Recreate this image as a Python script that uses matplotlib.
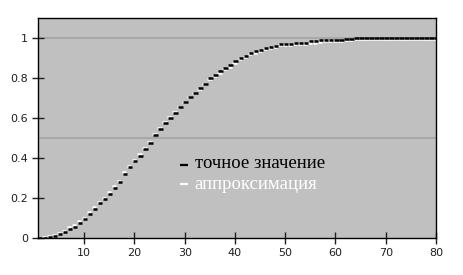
import numpy as np
from matplotlib import pyplot as plt

# значения (x = 1..80)
x_vals = list(range(1, 81))
exact = [0.000, 0.000, 0.004, 0.010, 0.018, 0.029, 0.046, 0.056, 0.076, 0.093,
         0.122, 0.146, 0.174, 0.193, 0.222, 0.251, 0.279, 0.322, 0.354, 0.384,
         0.412, 0.443, 0.476, 0.514, 0.547, 0.576, 0.600, 0.626, 0.654, 0.678,
         0.706, 0.726, 0.748, 0.772, 0.800, 0.814, 0.834, 0.851, 0.864, 0.884,
         0.900, 0.912, 0.926, 0.934, 0.942, 0.951, 0.956, 0.962, 0.971, 0.971,
         0.971, 0.976, 0.976, 0.976, 0.984, 0.984, 0.989, 0.992, 0.992, 0.992,
         0.992, 0.997, 0.997, 1.000, 1.000, 1.000, 1.000, 1.000, 1.000, 1.000,
         1.000, 1.000, 1.000, 1.000, 1.000, 1.000, 1.000, 1.000, 1.000, 1.000]
approx = [0.001, 0.003, 0.008, 0.016, 0.025, 0.037, 0.053, 0.065, 0.084, 0.102,
          0.130, 0.155, 0.182, 0.202, 0.231, 0.259, 0.287, 0.329, 0.361, 0.391,
          0.419, 0.449, 0.481, 0.518, 0.550, 0.579, 0.603, 0.628, 0.655, 0.679,
          0.705, 0.724, 0.745, 0.768, 0.794, 0.808, 0.827, 0.844, 0.857, 0.877,
          0.893, 0.905, 0.918, 0.926, 0.934, 0.943, 0.948, 0.955, 0.964, 0.964,
          0.964, 0.969, 0.969, 0.970, 0.977, 0.977, 0.982, 0.985, 0.985, 0.985,
          0.985, 0.990, 0.990, 0.993, 0.993, 0.993, 0.993, 0.993, 0.993, 0.993,
          0.993, 0.993, 0.993, 0.993, 0.993, 0.993, 0.993, 0.993, 0.993, 0.993]
labels = ['точное значение', 'аппроксимация']
xticks = [10, 20, 30, 40, 50, 60, 70, 80]
yticks = [0, 0.2, 0.4, 0.6, 0.8, 1]

x = np.array(x_vals, dtype=float)

fig = plt.figure(figsize=(4.64, 2.75), dpi=100, facecolor='white')
ax = fig.add_axes([38 / 464, 1 - 238 / 275, 398 / 464, 220 / 275])
ax.set_facecolor('#c0c0c0')

# линии сетки только на 0.5 и 1
for g in (0.5, 1.0):
    ax.axhline(g, color='#a4a4a4', lw=1.2, zorder=1)

ax.hlines(approx, x - 0.5, x + 0.4, color='white', lw=1.8, zorder=2)
ax.hlines(exact, x - 0.3, x + 0.6, color='black', lw=1.8, zorder=3)

ax.set_xlim(0.8, 80)
ax.set_ylim(0, 1.1)
ax.set_xticks(xticks)
ax.set_xticklabels([str(t) for t in xticks])
ax.set_yticks(yticks)
ax.set_yticklabels(['0', '0.2', '0.4', '0.6', '0.8', '1'])
ax.tick_params(direction='inout', length=8, width=1, color='#202020',
               labelsize=8, labelcolor='#202020', pad=3)
for s in ax.spines.values():
    s.set_linewidth(1)
    s.set_color('black')

# подписи (легенда)
ax.plot([0.358, 0.378], [0.332, 0.332], color='black', lw=1.6,
        transform=ax.transAxes, solid_capstyle='butt')
ax.plot([0.358, 0.378], [0.245, 0.245], color='white', lw=1.6,
        transform=ax.transAxes, solid_capstyle='butt')
ax.text(0.394, 0.339, labels[0], transform=ax.transAxes, va='center',
        ha='left', color='black', fontsize=13.5, family='Liberation Serif')
ax.text(0.394, 0.241, labels[1], transform=ax.transAxes, va='center',
        ha='left', color='white', fontsize=13.5, family='Liberation Serif')

plt.savefig('out.png', dpi=100, facecolor='white')
plt.close()
